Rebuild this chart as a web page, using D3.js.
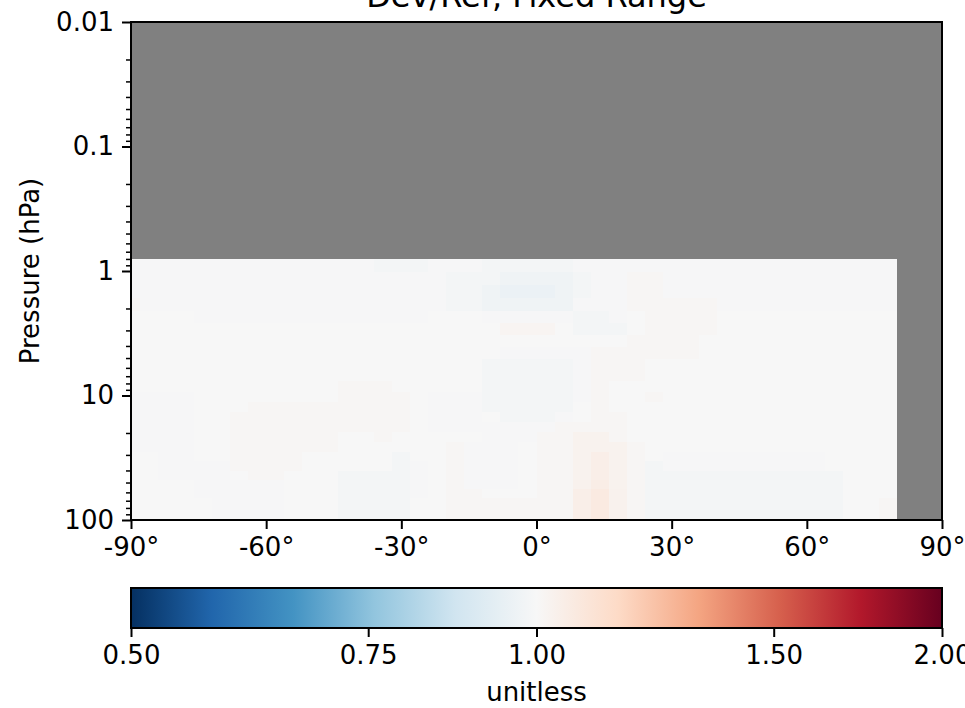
<!DOCTYPE html>
<html><head><meta charset="utf-8">
<script src="https://cdn.jsdelivr.net/npm/d3@7"></script>
<style>body{margin:0;background:#fff}svg{display:block}</style>
</head><body><svg id="c" width="965" height="708"></svg>
<script>
const title = "Dev/Ref, Fixed Range";
const yLabel = "Pressure (hPa)";
const cbLabel = "unitless";
const latEdges = [-90,-88,-84,-80,-76,-72,-68,-64,-60,-56,-52,-48,-44,-40,-36,-32,-28,-24,-20,-16,-12,-8,-4,0,4,8,12,16,20,24,28,32,36,40,44,48,52,56,60,64,68,72,76,80];
const pressureEdges = [0.7951,1.0194,1.3005,1.6508,2.0850,2.6202,3.2764,4.0766,5.0468,6.2168,7.6198,9.2929,11.2769,13.6434,16.4571,19.7916,23.7304,28.3678,33.8100,40.1754,47.6439,56.3879,66.6034,78.5123,92.3657,108.663];
const xTicks = [-90,-60,-30,0,30,60,90];
const yTicks = [0.01,0.1,1,10,100];
const yTickLabels = ["0.01","0.1","1","10","100"];
const yMinorTicks = [0.02,0.03,0.04,0.05,0.06,0.07,0.08,0.09,0.2,0.3,0.4,0.5,0.6,0.7,0.8,0.9,2,3,4,5,6,7,8,9,20,30,40,50,60,70,80,90];
const cbTicks = [0.5,0.75,1.0,1.5,2.0];
const cbTickLabels = ["0.50","0.75","1.00","1.50","2.00"];
const rdbuR = ["#053061","#2166ac","#4393c3","#92c5de","#d1e5f0","#f7f7f7","#fddbc7","#f4a582","#d6604d","#b2182b","#67001f"];
// Dev/Ref ratio, rows = pressure layers (top to bottom), cols = latitude bands
const ratio = [
[.995,.995,.995,.995,.995,.995,.995,.995,.995,.995, .995,.995,.995,.995,.985,.985,.985,.995,.995,.995, .985,.985,.985,.985,.985,.995,.995,.995,.995,.995, .995,.995,.995,.995,.995,.995,.995,.995,.995,.995, .995,.995,.995],
[.995,.995,.995,.995,.995,.995,.995,.995,.995,.995, .995,.995,.995,.995,.995,.995,.995,.995,.985,.985, .985,.97,.97,.97,.97,.985,.995,.995,1.01,1.01, .995,.995,.995,.995,.995,.995,.995,.995,.995,.995, .995,.995,.995],
[.995,.995,.995,.995,.995,.995,.995,.995,.995,.995, .995,.995,.995,.995,.995,.995,.995,.995,.985,.985, .97,.958,.958,.958,.97,.985,.995,.995,1.01,1.01, .995,.995,.995,.995,.995,.995,.995,.995,.995,.995, .995,.995,.995],
[1.01,.995,.995,.995,.995,.995,.995,.995,.995,.995, .995,.995,.995,.995,.995,.995,.995,.995,.985,.985, .97,.97,.97,.97,.97,.995,.995,.995,1.01,1.01, 1.01,1.01,1.01,.995,.995,.995,.995,.995,.995,.995, .995,.995,.995],
[1,1,1,1,.995,.995,.995,.995,.995,.995, .995,.995,.995,.995,.995,.995,.995,1,1,1, .995,.995,.995,.995,.995,.985,.985,.995,1,1.01, 1.01,1.01,1.01,1,1,1,1,1,1,1, 1,1,1],
[1,1,1,1,1,1,1,1,1,1, 1,1,1,1,1,1,1,1,1,1, 1,1.015,1.015,1.015,1,.985,.985,.985,1,1.01, 1.01,1.01,1.01,1,1,1,1,1,1,1, 1,1,1],
[1,1,1,1,1,1,1,1,1,1, 1,1,1,1,1,1,1,1,1,1, 1,1,1,1,1,1,1,1,1.01,1.01, 1.01,1.01,1,1,1,1,1,1,1,1, 1,1,1],
[1,1,1,1,1,1,1,1,1,1, 1,1,1,1,1,1,1,1,1,1, 1,.995,.995,.995,.995,.995,1.01,1.01,1.01,1.01, 1.01,1.01,1,1,1,1,1,1,1,1, 1,1,1],
[1,1,1,1,1,1,1,1,1,1, 1,1,1,1,1,1,1,1,1,1, .985,.985,.985,.985,.985,.995,1.01,1.01,1.01,1, 1,1,1,1,1,1,1,1,1,1, 1,1,1],
[1,1,1,1,1,1,1,1,1,1, 1,1,1,1,1,1,1,1,1,1, .985,.985,.985,.985,.985,.995,1.01,1.01,1.01,1, 1,1,1,1,1,1,1,1,1,1, 1,1,1],
[1,1,1,1,1,1,1,1,1,1, 1,1,1.01,1.01,1.01,1,1,1,1,1, .985,.985,.985,.985,.985,.995,1.01,1,1,1, 1,1,1,1,1,1,1,1,1,1, 1,1,1],
[.995,.995,.995,.995,1,1,1,1,1,1, 1,1,1.01,1.01,1.01,1.01,1,.995,.995,.995, .985,.985,.985,.985,.985,.995,1.01,1,1,1.01, 1,1,1,1,1,1,1,1,1,1, 1,1,1],
[.995,.995,.995,.995,1,1,1,1.01,1.01,1.01, 1.01,1.01,1.01,1.01,1.01,1.01,1,.995,.995,.995, .985,.985,.985,.985,.985,1,1.01,1,1,1, 1,1,1,1,1,1,1,1,1,1, 1,1,1],
[.995,.995,.995,.995,1,1,1.01,1.01,1.01,1.01, 1.01,1.01,1.01,1.01,1.01,1.01,1,.995,.995,.995, 1,.985,.985,.985,.995,1,1.01,1.01,1,1, 1,1,1,1,1,1,1,1,1,1, 1,1,1],
[.995,.995,.995,.995,1,1,1.01,1.01,1.01,1.01, 1.01,1.01,1.01,1.01,1.01,1.01,1,.995,.995,.995, .995,.995,.995,.995,1.01,1.01,1.01,1.01,1,1, 1,1,1,1,1,1,1,1,1,1, 1,1,1],
[.995,.995,.995,.995,1,1,1.01,1.01,1.01,1.01, 1.01,1.01,1,1,1.01,1,1,1,1,1, .995,.995,.995,1.01,1.01,1.025,1.025,1.01,1,1, 1,1,1,1,1,1,1,1,1,1, 1,1,1],
[.995,.995,.995,.995,1,1,1.01,1.01,1.01,1.01, 1.01,1.01,1,1,1,1,1,1,1.01,.995, .995,.995,1,1.01,1.01,1.025,1.025,1.025,1.01,1, 1,1,1,1,1,1,1,1,1,1, 1,1,1],
[1,1,.995,.995,1,1,1.01,1.01,1.01,1.01, 1,1,1,1,1,.985,1,1,1.01,.995, .995,.995,1,1.01,1.01,1.025,1.045,1.025,1.01,1, .995,.995,.995,.995,.995,.995,.995,.995,.995,1, 1,1,1],
[1,1,.995,.995,.995,.995,1.01,1.01,1.01,1.01, 1,1,1,1,1,.985,.995,1,1.01,.995, .995,.995,1,1.01,1.01,1.025,1.045,1.025,1.01,.985, .995,.995,.995,.995,.995,.995,.995,.995,.995,1, 1,1,1],
[1,1,.995,.995,.995,.995,1,1.01,1.01,1, 1,1,.985,.985,.985,.985,.995,1,1.01,.995, .995,.995,1,1.01,1.01,1.025,1.045,1.025,1.01,.985, .985,.985,.985,.985,.985,.985,.985,.985,.985,.985, 1,1,1],
[1,1,1,1,.995,.995,.995,.995,.995,1, 1,1,.985,.985,.985,.985,.995,1,1.01,.995, .995,.995,1,1.01,1.01,1.03,1.05,1.025,1.01,.985, .985,.985,.985,.985,.985,.985,.985,.985,.985,.985, 1,1,1],
[1,1,1,1,.995,.995,.995,.995,.995,1, 1,1,.985,.985,.985,.985,.995,1,1.01,1.01, 1,1,1,1.01,1.01,1.045,1.065,1.03,1.01,.985, .985,.985,.985,.985,.985,.985,.985,.985,.985,.985, 1,1,1],
[1,1,1,1,1,.995,.995,.995,.995,1, 1,1,.985,.985,.985,.985,1,1,1.01,1.01, 1.01,1.01,1.01,1.01,1.01,1.045,1.065,1.03,1.01,.985, .985,.985,.985,.985,.985,.985,.985,.985,.985,.985, 1,1,1.01],
[1,1,1,1,1,.995,.995,.995,.995,1, 1,1,.985,.985,.985,.985,1,1,1.01,1.01, 1.01,1.01,1.01,1.01,1.01,1.045,1.065,1.03,1.01,.985, .985,.985,.985,.985,.985,.985,.985,.985,.985,.985, 1,1,1.01],
[1,1,1,1,1,.995,.995,.995,.995,1, 1,1,.985,.985,.985,.985,1,1,1.01,1.01, 1.01,1.01,1.01,1.01,1.01,1.045,1.065,1.03,1.01,.985, .985,.985,.985,.985,.985,.985,.985,.985,.985,.985, 1,1,1.01]
];

const FONT = "DejaVu Sans";
const FS = 26;
const M = {left:131, right:942, top:22, bottom:520};
const CB = {top:588, bottom:628};

const x = d3.scaleLinear().domain([-90,90]).range([M.left, M.right]);
const y = d3.scaleLog().domain([0.01,100]).range([M.top, M.bottom]);
const norm = d3.scaleLog().domain([0.5,2]).range([0,1]).clamp(true);
const cmap = d3.scaleLinear().domain(rdbuR.map((c,i)=>i/(rdbuR.length-1))).range(rdbuR).interpolate(d3.interpolateRgb);
const cbx = d3.scaleLog().domain([0.5,2]).range([M.left, M.right]);

const svg = d3.select("#c");
const defs = svg.append("defs");
defs.append("clipPath").attr("id","clip").append("rect")
  .attr("x",M.left).attr("y",M.top).attr("width",M.right-M.left).attr("height",M.bottom-M.top);

// background (missing data)
svg.append("rect").attr("x",M.left).attr("y",M.top)
  .attr("width",M.right-M.left).attr("height",M.bottom-M.top).attr("fill","#808080");

const cells = [];
ratio.forEach((row,r)=>row.forEach((v,c)=>cells.push({r,c,v})));
svg.append("g").attr("clip-path","url(#clip)")
  .selectAll("rect").data(cells).join("rect")
  .attr("x",d=>x(latEdges[d.c]))
  .attr("width",d=>x(latEdges[d.c+1])-x(latEdges[d.c]))
  .attr("y",d=>y(pressureEdges[d.r]))
  .attr("height",d=>y(pressureEdges[d.r+1])-y(pressureEdges[d.r]))
  .attr("fill",d=>cmap(norm(d.v)))
  .attr("shape-rendering","crispEdges");

function styleAxis(g){
  g.attr("font-family",FONT).attr("font-size",FS);
  g.select(".domain").remove();
  g.selectAll(".tick line").attr("stroke","#000").attr("stroke-width",2);
  g.selectAll(".tick text").attr("fill","#000");
}

// y axis
svg.append("g").attr("transform",`translate(${M.left},0)`)
  .call(d3.axisLeft(y).tickValues(yTicks).tickFormat((d,i)=>yTickLabels[i]).tickSize(9).tickPadding(8))
  .call(styleAxis);
svg.append("g").attr("transform",`translate(${M.left},0)`)
  .call(d3.axisLeft(y).tickValues(yMinorTicks).tickFormat("").tickSize(5))
  .call(g=>{g.select(".domain").remove(); g.selectAll(".tick line").attr("stroke","#000").attr("stroke-width",1.5);});

// x axis
svg.append("g").attr("transform",`translate(0,${M.bottom})`)
  .call(d3.axisBottom(x).tickValues(xTicks).tickFormat(d=>`${d}°`).tickSize(9).tickPadding(9))
  .call(styleAxis);

// frame
svg.append("rect").attr("x",M.left).attr("y",M.top)
  .attr("width",M.right-M.left).attr("height",M.bottom-M.top)
  .attr("fill","none").attr("stroke","#000").attr("stroke-width",2);

// title & labels
svg.append("text").attr("x",(M.left+M.right)/2).attr("y",7)
  .attr("text-anchor","middle").attr("font-family",FONT).attr("font-size",32).text(title);
svg.append("text").attr("transform",`translate(38.5,${(M.top+M.bottom)/2}) rotate(-90)`)
  .attr("text-anchor","middle").attr("font-family",FONT).attr("font-size",FS).text(yLabel);

// colorbar
const grad = defs.append("linearGradient").attr("id","cbgrad").attr("x1","0").attr("x2","1").attr("y1","0").attr("y2","0");
grad.selectAll("stop").data(rdbuR).join("stop")
  .attr("offset",(d,i)=>i/(rdbuR.length-1)).attr("stop-color",d=>d);
svg.append("rect").attr("x",M.left).attr("y",CB.top)
  .attr("width",M.right-M.left).attr("height",CB.bottom-CB.top).attr("fill","url(#cbgrad)");
svg.append("g").attr("transform",`translate(0,${CB.bottom})`)
  .call(d3.axisBottom(cbx).tickValues(cbTicks).tickFormat((d,i)=>cbTickLabels[i]).tickSize(9).tickPadding(9))
  .call(styleAxis);
svg.append("rect").attr("x",M.left).attr("y",CB.top)
  .attr("width",M.right-M.left).attr("height",CB.bottom-CB.top)
  .attr("fill","none").attr("stroke","#000").attr("stroke-width",2);
svg.append("text").attr("x",(M.left+M.right)/2).attr("y",701)
  .attr("text-anchor","middle").attr("font-family",FONT).attr("font-size",FS).text(cbLabel);
</script>
</body></html>
